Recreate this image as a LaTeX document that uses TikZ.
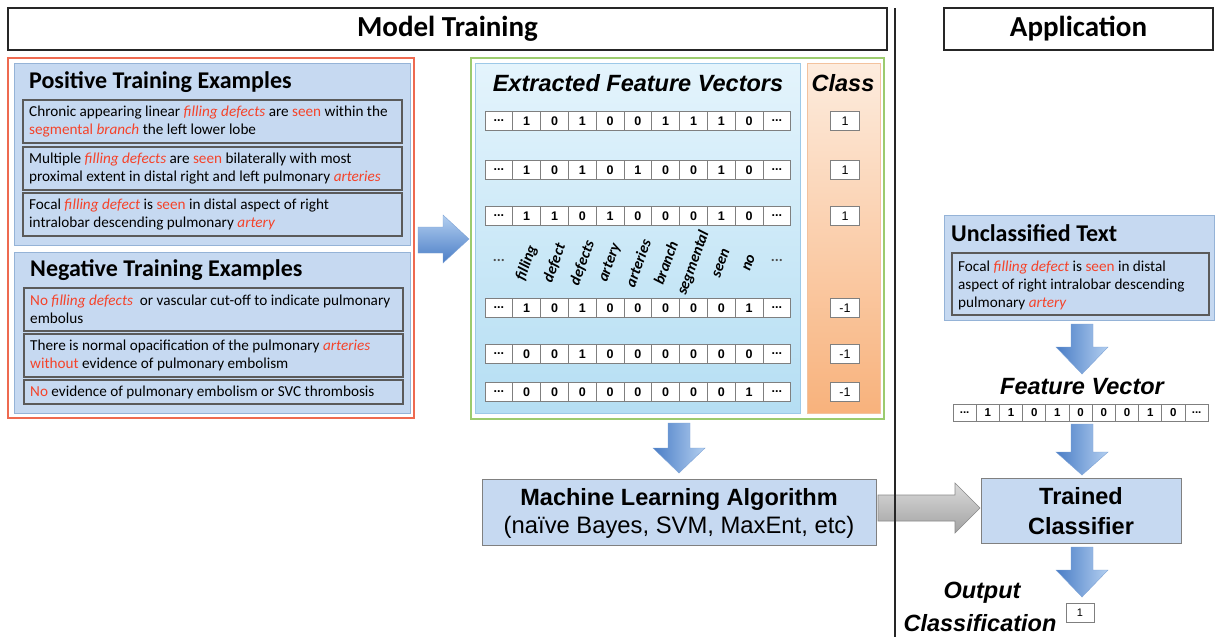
\documentclass[tikz,border=0pt]{standalone}
\usepackage{fontspec}
\setmainfont{Carlito}
\newfontfamily\arial{Liberation Sans}
\usetikzlibrary{fit}
\definecolor{kwred}{HTML}{F5432A}
\definecolor{boxblue}{HTML}{C6D9F1}
\definecolor{boxblueline}{HTML}{95B3D7}
\definecolor{sentline}{HTML}{5A5A5A}
\definecolor{outred}{HTML}{EE6A50}
\definecolor{outgreen}{HTML}{9CCB6E}
\definecolor{fvtop}{HTML}{E4F4FC}
\definecolor{fvbot}{HTML}{B5DEF3}
\definecolor{fvline}{HTML}{9CC9E8}
\definecolor{cltop}{HTML}{FDECDE}
\definecolor{clbot}{HTML}{F8B27C}
\definecolor{clline}{HTML}{F3C29E}
\definecolor{ardark}{HTML}{4A7DC6}
\definecolor{arlight}{HTML}{B3CFF0}
\definecolor{ardraw}{HTML}{7EA3D6}
\definecolor{grtop}{HTML}{DADADA}
\definecolor{grbot}{HTML}{A2A2A2}
\definecolor{grdraw}{HTML}{8A8A8A}
\definecolor{cellline}{HTML}{7F7F7F}
\newcommand\kw[1]{\textcolor{kwred}{\textit{#1}}}
\newcommand\rw[1]{\textcolor{kwred}{#1}}
\newcommand\blkdown[5]{% name, x, top, headstart, tip
  \shade[left color=ardark, right color=arlight, draw=ardraw, line width=0.4pt]
    (#2-11,#3) -- (#2+11,#3) -- (#2+11,#4) -- (#2+26,#4) -- (#2,#5) -- (#2-26,#4) -- (#2-11,#4) -- cycle;
  \coordinate (#1) at (#2,#5);}
\tikzset{
  region/.style={inner sep=0pt, outer sep=0pt},
  hdrbox/.style={region, draw=black!85, line width=1.6pt},
  bluebox/.style={region, fill=boxblue, draw=boxblueline, line width=0.9pt},
  sentbox/.style={region, draw=sentline, line width=1.1pt},
  stxt/.style={inner sep=0pt, align=left, anchor=west, font=\fontsize{15.2}{18}\selectfont},
  ttl/.style={inner sep=0pt, anchor=west, font=\fontsize{24}{26}\selectfont\bfseries},
  hdrtxt/.style={inner sep=0pt, font=\fontsize{29}{30}\selectfont\bfseries},
  artxt/.style={inner sep=0pt, align=center, font=\arial\fontsize{23.5}{30}\selectfont\bfseries},
  arital/.style={inner sep=0pt, align=center, font=\arial\fontsize{23.5}{30}\selectfont\bfseries\itshape},
  cell/.style={draw=cellline, fill=white, line width=0.8pt, inner sep=0pt, minimum width=27.8pt, minimum height=19pt, font=\arial\fontsize{12.5}{12}\selectfont\bfseries},
  scell/.style={draw=cellline, fill=white, line width=0.7pt, inner sep=0pt, minimum width=23.2pt, minimum height=17pt, font=\arial\fontsize{11.5}{11}\selectfont\bfseries},
  clcell/.style={draw=cellline, fill=white, line width=0.8pt, inner sep=0pt, minimum width=29pt, minimum height=19pt, font=\arial\fontsize{12.5}{12}\selectfont},
  word/.style={inner sep=0pt, rotate=70, font=\fontsize{15.5}{16}\selectfont\bfseries\itshape},
}
\begin{document}
\begin{tikzpicture}[x=1pt,y=-1pt]
\useasboundingbox (0,0) rectangle (1216,637);
\fill[white] (0,0) rectangle (1216,637);

% headers
\node[hdrbox, fit={(8,8) (887,50)}] (mthdr) {};
\node[hdrtxt] (mttxt) at (mthdr.center) {Model Training};
\node[hdrbox, fit={(944,8) (1213,50)}] (aphdr) {};
\node[hdrtxt] (aptxt) at (aphdr.center) {Application};

% training examples
\node[region, draw=outred, line width=1.2pt, fit={(8,58) (414,418)}] (train) {};
\node[bluebox, fit={(14,63) (410,245)}] (pos) {};
\node[ttl] (postitle) at (29,82) {Positive Training Examples};
\node[sentbox, fit={(23,100) (402,143)}] (p1) {};
\node[stxt] (p1t) at (29,121.5) {Chronic appearing linear \kw{filling defects} are \rw{seen} within the\\\rw{segmental} \kw{branch} the left lower lobe};
\node[sentbox, fit={(23,147) (402,190)}] (p2) {};
\node[stxt] (p2t) at (29,168.5) {Multiple \kw{filling defects} are \rw{seen} bilaterally with most\\proximal extent in distal right and left pulmonary \kw{arteries}};
\node[sentbox, fit={(23,193) (402,236)}] (p3) {};
\node[stxt] (p3t) at (29,214.5) {Focal \kw{filling defect} is \rw{seen} in distal aspect of right\\intralobar descending pulmonary \kw{artery}};

\node[bluebox, fit={(14,252) (410,413)}] (neg) {};
\node[ttl] (negtitle) at (30,270) {Negative Training Examples};
\node[sentbox, fit={(24,288) (403,331)}] (n1) {};
\node[stxt] (n1t) at (30,309.5) {\rw{No} \kw{filling defects}\ \ or vascular cut-off to indicate pulmonary\\embolus};
\node[sentbox, fit={(24,334) (403,377)}] (n2) {};
\node[stxt] (n2t) at (30,355.5) {There is normal opacification of the pulmonary \kw{arteries}\\\rw{without} evidence of pulmonary embolism};
\node[sentbox, fit={(24,380) (403,404)}] (n3) {};
\node[stxt] (n3t) at (30,392) {\rw{No} evidence of pulmonary embolism or SVC thrombosis};

% right block arrow
\shade[top color=arlight, bottom color=ardark, draw=ardraw, line width=0.4pt]
  (418,227) -- (443,227) -- (443,215) -- (469,239) -- (443,263) -- (443,253) -- (418,253) -- cycle;

% feature vectors
\node[region, draw=outgreen, line width=1.2pt, fit={(471,58) (884,419)}] (fvouter) {};
\node[region, top color=fvtop, bottom color=fvbot, draw=fvline, line width=0.8pt, fit={(475,63) (800,413)}] (fvpanel) {};
\node[region, top color=cltop, bottom color=clbot, draw=clline, line width=0.8pt, fit={(807,63) (880,413)}] (clpanel) {};
\node[arital] (fvtitle) at (638,83) {Extracted Feature Vectors};
\node[arital] (cltitle) at (843,83) {Class};

\foreach \r/\yy/\vals/\cl in {1/121/{1,0,1,0,0,1,1,1,0}/1, 2/170/{1,0,1,0,1,0,0,1,0}/1, 3/216/{1,1,0,1,0,0,0,1,0}/1, 4/308/{1,0,1,0,0,0,0,0,1}/-1, 5/354/{0,0,1,0,0,0,0,0,0}/-1, 6/392/{0,0,0,0,0,0,0,0,1}/-1}{
  \node[cell] (r\r c0) at (485+13.9,\yy) {...};
  \foreach \v [count=\i] in \vals {
    \node[cell] (r\r c\i) at (485+27.8*\i+13.9,\yy) {\v};
  }
  \node[cell] (r\r c10) at (485+27.8*10+13.9,\yy) {...};
  \node[clcell] (cl\r) at (845,\yy) {\cl};
}
\node[inner sep=0pt, font=\fontsize{15}{15}\selectfont\bfseries, text=black!70] (wd0) at (485+13.9,260) {...};
\foreach \w [count=\i] in {filling,defect,defects,artery,arteries,branch,segmental,seen,no}{
  \node[word] (wd\i) at (485+27.8*\i+13.9,263) {\w};
}
\node[inner sep=0pt, font=\fontsize{15}{15}\selectfont\bfseries, text=black!70] (wd10) at (485+27.8*10+13.9,260) {...};

% down arrow to ML
\blkdown{a1}{679}{423}{448}{473}
\node[region, fill=boxblue, draw=black!50, line width=0.9pt, fit={(482,479) (876,545)}] (ml) {};
\node[artxt] (mlt1) at (679,499) {Machine Learning Algorithm};
\node[inner sep=0pt, font=\arial\fontsize{23.8}{30}\selectfont] (mlt2) at (679,527) {(naïve Bayes, SVM, MaxEnt, etc)};

% gray arrow
\shade[top color=grtop, bottom color=grbot, draw=grdraw, line width=0.6pt]
  (878,495) -- (955,495) -- (955,483) -- (980,508) -- (955,533) -- (955,521) -- (878,521) -- cycle;

% divider
\coordinate (dtop) at (895,8);
\coordinate (dbot) at (895,637);
\draw[line width=2pt, black!85] (dtop) -- (dbot);

% application
\node[bluebox, fit={(944,215) (1214,320)}] (unc) {};
\node[ttl] (unctitle) at (951,233) {Unclassified Text};
\node[sentbox, fit={(952,253) (1209,315)}] (uncs) {};
\node[stxt] (unct) at (958,285) {Focal \kw{filling defect} is \rw{seen} in distal\\aspect of right intralobar descending\\pulmonary \kw{artery}};

\blkdown{a2}{1082}{324}{347}{374}
\node[arital] (fvlab) at (1082,387) {Feature Vector};
\node[scell] (f0) at (953+11.6,412.5) {...};
\foreach \v [count=\i] in {1,1,0,1,0,0,0,1,0}{
  \node[scell] (f\i) at (953+23.2*\i+11.6,412.5) {\v};
}
\node[scell] (f10) at (953+23.2*10+11.6,412.5) {...};

\blkdown{a3}{1082}{424}{452}{475}
\node[region, fill=boxblue, draw=black!50, line width=0.9pt, fit={(981,478) (1181,543)}] (tc) {};
\node[artxt] (tct) at (1081,511) {Trained\\Classifier};

\blkdown{a4}{1082}{547}{570}{597}
\node[arital] (outl1) at (982,593) {Output};
\node[arital] (outl2) at (980,623) {Classification};
\node[clcell, minimum width=28pt, minimum height=19pt, font=\arial\fontsize{11}{11}\selectfont] (outbox) at (1080,613) {1};
\end{tikzpicture}
\end{document}
